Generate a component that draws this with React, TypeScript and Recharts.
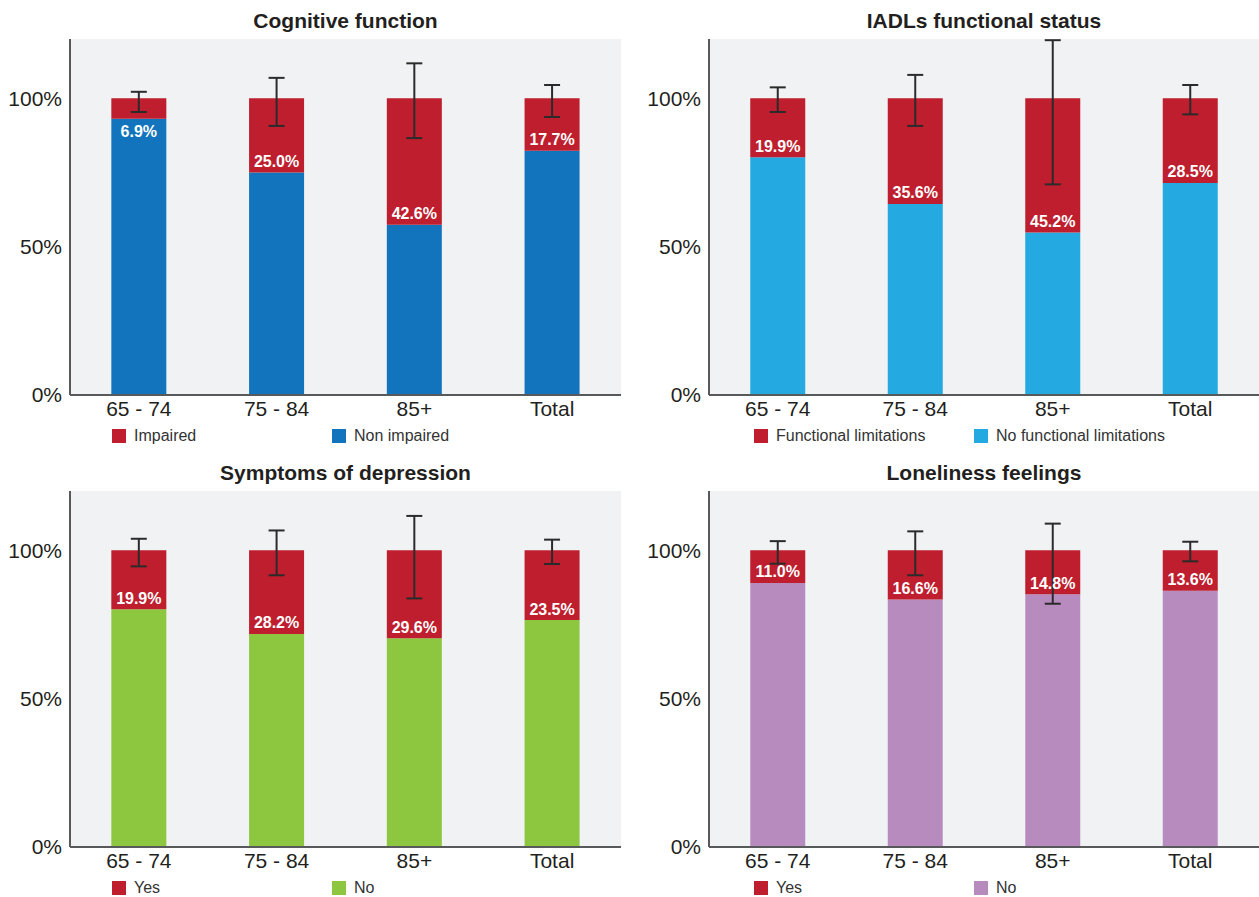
import React from 'react';
import { BarChart, Bar, XAxis, YAxis, CartesianGrid, ErrorBar, LabelList } from 'recharts';

const categories = ['65 - 74', '75 - 84', '85+', 'Total'];
const yTicks = [0, 50, 100];

const cognitiveImpaired = [6.9, 25.0, 42.6, 17.7];
const cognitiveCiLow = [95.4, 90.7, 86.6, 93.7];
const cognitiveCiHigh = [102.2, 106.9, 111.8, 104.5];

const iadlLimited = [19.9, 35.6, 45.2, 28.5];
const iadlCiLow = [95.4, 90.7, 71.0, 94.6];
const iadlCiHigh = [103.7, 107.9, 119.6, 104.5];

const depressionYes = [19.9, 28.2, 29.6, 23.5];
const depressionCiLow = [94.6, 91.6, 83.8, 95.4];
const depressionCiHigh = [103.9, 106.7, 111.6, 103.6];

const lonelinessYes = [11.0, 16.6, 14.8, 13.6];
const lonelinessCiLow = [95.5, 91.6, 82.0, 96.3];
const lonelinessCiHigh = [103.1, 106.4, 109.0, 102.9];

const RED = '#be1e2d';
const FONT = '"Liberation Sans", Arial, Helvetica, sans-serif';

function buildData(top: number[], lo: number[], hi: number[]) {
  return categories.map((c, i) => ({
    cat: c,
    bottom: +(100 - top[i]).toFixed(1),
    top: top[i],
    err: [+(100 - lo[i]).toFixed(2), +(hi[i] - 100).toFixed(2)],
  }));
}

type PanelProps = {
  left: number;
  top: number;
  width: number;
  title: string;
  topVals: number[];
  lo: number[];
  hi: number[];
  color: string;
  legendTop: string;
  legendBottom: string;
  legendX: number;
};

function Panel(p: PanelProps) {
  const data = buildData(p.topVals, p.lo, p.hi);
  const H = 450;
  const yAxisW = 70;
  const plotLeft = yAxisW;
  const plotRight = p.width - (p.left === 0 ? 4 : 0);
  const renderLabel = (props: any) => {
    const vb = props.viewBox || props;
    const x = vb.x ?? props.x;
    const y = vb.y ?? props.y;
    const w = vb.width ?? props.width;
    const h = vb.height ?? props.height;
    const idx = props.index;
    const v = p.topVals[idx];
    const boundary = y + h;
    const cy = h < 28 ? boundary + 13 : boundary - 11;
    return (
      <text
        x={x + w / 2}
        y={cy}
        fill="#ffffff"
        fontSize={16}
        fontWeight="bold"
        fontFamily={FONT}
        textAnchor="middle"
        dominantBaseline="central"
      >
        {v.toFixed(1) + '%'}
      </text>
    );
  };
  return (
    <div style={{ position: 'absolute', left: p.left, top: p.top, width: p.width, height: H }}>
      <div
        style={{
          position: 'absolute',
          left: plotLeft,
          width: plotRight - plotLeft,
          top: 9,
          textAlign: 'center',
          fontFamily: FONT,
          fontWeight: 'bold',
          fontSize: 21,
          lineHeight: '24px',
          color: '#231f20',
        }}
      >
        {p.title}
      </div>
      <BarChart
        width={p.width}
        height={H}
        data={data}
        margin={{ top: 39, right: p.width - plotRight, bottom: 25, left: 0 }}
        barCategoryGap="30%"
      >
        <CartesianGrid fill="#f1f2f4" horizontal={false} vertical={false} stroke="none" />
        <XAxis
          dataKey="cat"
          height={30}
          axisLine={{ stroke: '#58595b', strokeWidth: 2 }}
          tickLine={false}
          tick={{ fill: '#231f20', fontSize: 21, fontFamily: FONT }}
          tickSize={4}
          interval={0}
        />
        <YAxis
          width={yAxisW}
          domain={[0, 120]}
          ticks={yTicks}
          allowDataOverflow
          tickFormatter={(v: number) => v + '%'}
          axisLine={{ stroke: '#58595b', strokeWidth: 2 }}
          tickLine={false}
          tick={{ fill: '#231f20', fontSize: 21, fontFamily: FONT }}
        />
        <Bar dataKey="bottom" stackId="s" fill={p.color} isAnimationActive={false} />
        <Bar dataKey="top" stackId="s" fill={RED} isAnimationActive={false}>
          <LabelList dataKey="top" content={renderLabel} />
          <ErrorBar dataKey="err" width={8} stroke="#2b2b2b" strokeWidth={2} direction="y" />
        </Bar>
      </BarChart>
      <div
        style={{
          position: 'absolute',
          left: p.legendX,
          top: 427,
          display: 'flex',
          alignItems: 'center',
          fontFamily: FONT,
          fontSize: 16,
          color: '#333333',
        }}
      >
        <div style={{ display: 'flex', alignItems: 'center', width: 220 }}>
          <div style={{ width: 14, height: 14, background: RED, marginRight: 8 }} />
          <span>{p.legendTop}</span>
        </div>
        <div style={{ display: 'flex', alignItems: 'center' }}>
          <div style={{ width: 14, height: 14, background: p.color, marginRight: 8 }} />
          <span>{p.legendBottom}</span>
        </div>
      </div>
    </div>
  );
}

export default function App() {
  return (
    <div style={{ position: 'absolute', left: 0, top: 0, width: 1259, height: 897, background: '#ffffff', overflow: 'hidden' }}>
      <Panel
        left={0}
        top={0}
        width={625}
        title="Cognitive function"
        topVals={cognitiveImpaired}
        lo={cognitiveCiLow}
        hi={cognitiveCiHigh}
        color="#1174bd"
        legendTop="Impaired"
        legendBottom="Non impaired"
        legendX={112}
      />
      <Panel
        left={639}
        top={0}
        width={620}
        title="IADLs functional status"
        topVals={iadlLimited}
        lo={iadlCiLow}
        hi={iadlCiHigh}
        color="#24a9e0"
        legendTop="Functional limitations"
        legendBottom="No functional limitations"
        legendX={115}
      />
      <Panel
        left={0}
        top={452}
        width={625}
        title="Symptoms of depression"
        topVals={depressionYes}
        lo={depressionCiLow}
        hi={depressionCiHigh}
        color="#8dc63f"
        legendTop="Yes"
        legendBottom="No"
        legendX={112}
      />
      <Panel
        left={639}
        top={452}
        width={620}
        title="Loneliness feelings"
        topVals={lonelinessYes}
        lo={lonelinessCiLow}
        hi={lonelinessCiHigh}
        color="#b88bbf"
        legendTop="Yes"
        legendBottom="No"
        legendX={115}
      />
    </div>
  );
}
